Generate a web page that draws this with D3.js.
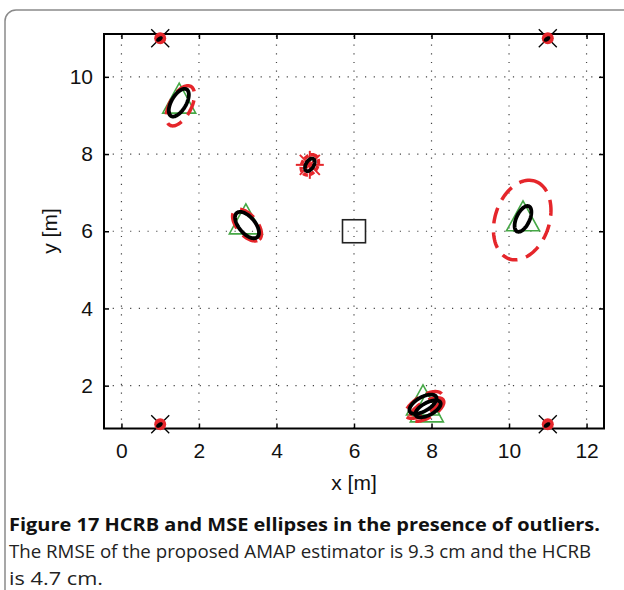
<!DOCTYPE html>
<html>
<head>
<meta charset="utf-8">
<script src="https://cdn.jsdelivr.net/npm/d3@7"></script>
<style>
  html, body { margin: 0; padding: 0; background: #fff; }
  svg { display: block; }
</style>
</head>
<body>
<svg id="fig" width="624" height="590"></svg>
<script>
// Anchor nodes (known positions), in metres
const anchorX = [1, 1, 11, 11];
const anchorY = [1, 11, 1, 11];

// Target node position
const targetX = [6];
const targetY = [6];

// True positions of the unknown nodes (green triangles)
const nodeX = [1.49, 3.21, 10.36, 7.78, 7.88];
const nodeY = [9.45, 6.32, 6.40, 1.63, 1.45];

// Outlier node (red asterisk)
const outlierX = [4.86];
const outlierY = [7.72];

// MSE ellipses (black): centre, semi-axes [m], orientation [deg]
const mseCx    = [1.48, 3.24, 10.36, 7.78, 7.91, 4.86];
const mseCy    = [9.33, 6.16, 6.32, 1.52, 1.40, 7.72];
const mseA     = [0.40, 0.41, 0.36, 0.39, 0.36, 0.18];
const mseB     = [0.19, 0.21, 0.17, 0.18, 0.16, 0.10];
const mseAngle = [60, -50, 65, 30, 28, 60];

// HCRB ellipses (red dashed)
const crbCx    = [1.52, 3.24, 10.34, 7.80, 7.88, 4.86];
const crbCy    = [9.25, 6.16, 6.29, 1.50, 1.38, 7.72];
const crbA     = [0.57, 0.49, 1.06, 0.54, 0.49, 0.28];
const crbB     = [0.28, 0.26, 0.70, 0.23, 0.21, 0.20];
const crbAngle = [62, -50, 72, 32, 30, 60];

// Tiny MSE ellipses at the anchors
const anchorMseA = 0.07, anchorMseB = 0.03, anchorMseAngle = 35;

// Axis ticks
const xTicks = [0, 2, 4, 6, 8, 10, 12];
const yTicks = [2, 4, 6, 8, 10];
const xDomain = [-0.45, 12.45];
const yDomain = [0.89, 11.11];

// Caption
const captionBold = "Figure 17 HCRB and MSE ellipses in the presence of outliers.";
const captionLines = [
  "The RMSE of the proposed AMAP estimator is 9.3 cm and the HCRB",
  "is 4.7 cm."
];

const RED = "#e5262b";
const GREEN = "#46a846";

const svg = d3.select("#fig");

// Outer rounded frame
svg.append("rect")
  .attr("x", 5).attr("y", 10).attr("width", 760).attr("height", 760)
  .attr("rx", 11).attr("ry", 11)
  .attr("fill", "none").attr("stroke", "#8a8a8a").attr("stroke-width", 1.5);

const L = 104, R = 604, T = 34, B = 428.5;
const x = d3.scaleLinear().domain(xDomain).range([L, R]);
const y = d3.scaleLinear().domain(yDomain).range([B, T]);

// Dotted grid
const grid = svg.append("g").attr("stroke", "#444").attr("stroke-width", 1.2)
  .attr("stroke-dasharray", "1.2,7.5");
grid.selectAll("line.gx").data(xTicks).join("line")
  .attr("x1", d => x(d)).attr("x2", d => x(d)).attr("y1", B).attr("y2", T);
grid.selectAll("line.gy").data(yTicks).join("line")
  .attr("y1", d => y(d)).attr("y2", d => y(d)).attr("x1", L).attr("x2", R);

// Axes with inward ticks on all four sides
const fontAxis = "'Liberation Sans', Arial, Helvetica, sans-serif";
function styleAxis(g) {
  g.select(".domain").remove();
  g.selectAll(".tick line").attr("stroke", "#000").attr("stroke-width", 1.5);
  g.selectAll("text").attr("font-family", fontAxis).attr("font-size", 21).attr("fill", "#111");
}
svg.append("g").attr("transform", `translate(0,${B})`)
  .call(d3.axisBottom(x).tickValues(xTicks).tickSize(-5).tickPadding(15).tickFormat(d3.format("d")))
  .call(styleAxis);
svg.append("g").attr("transform", `translate(0,${T})`)
  .call(d3.axisTop(x).tickValues(xTicks).tickSize(-5).tickFormat(""))
  .call(styleAxis);
svg.append("g").attr("transform", `translate(${L},0)`)
  .call(d3.axisLeft(y).tickValues(yTicks).tickSize(-5).tickPadding(11).tickFormat(d3.format("d")))
  .call(styleAxis);
svg.append("g").attr("transform", `translate(${R},0)`)
  .call(d3.axisRight(y).tickValues(yTicks).tickSize(-5).tickFormat(""))
  .call(styleAxis);

// Plot box
svg.append("rect").attr("x", L).attr("y", T).attr("width", R - L).attr("height", B - T)
  .attr("fill", "none").attr("stroke", "#000").attr("stroke-width", 2);

// Axis labels
svg.append("text").attr("x", (L + R) / 2).attr("y", 490).attr("text-anchor", "middle")
  .attr("font-family", fontAxis).attr("font-size", 21).attr("fill", "#111").text("x [m]");
svg.append("text").attr("transform", "translate(57,231) rotate(-90)").attr("text-anchor", "middle")
  .attr("font-family", fontAxis).attr("font-size", 21).attr("fill", "#111").text("y [m]");

// Ellipse outline through the scales
function ellipsePath(cx, cy, a, b, angDeg) {
  const th = angDeg * Math.PI / 180, n = 96;
  const pts = d3.range(n).map(i => {
    const t = 2 * Math.PI * i / n;
    const ex = a * Math.cos(t), ey = b * Math.sin(t);
    return [cx + ex * Math.cos(th) - ey * Math.sin(th), cy + ex * Math.sin(th) + ey * Math.cos(th)];
  });
  return d3.line().x(p => x(p[0])).y(p => y(p[1])).curve(d3.curveLinearClosed)(pts);
}

// Green triangles: true node positions
const triW = 33, triH = 30;
svg.append("g").selectAll("path").data(d3.range(nodeX.length)).join("path")
  .attr("d", i => {
    const px = x(nodeX[i]), py = y(nodeY[i]);
    return `M${px},${py - triH / 2}L${px + triW / 2},${py + triH / 2}L${px - triW / 2},${py + triH / 2}Z`;
  })
  .attr("fill", "none").attr("stroke", GREEN).attr("stroke-width", 1.6);

// Target node: black square
const sq = 23;
svg.append("g").selectAll("rect").data(d3.range(targetX.length)).join("rect")
  .attr("x", i => x(targetX[i]) - sq / 2).attr("y", i => y(targetY[i]) - sq / 2)
  .attr("width", sq).attr("height", sq)
  .attr("fill", "none").attr("stroke", "#222").attr("stroke-width", 1.6);

// Outlier: red asterisk
const ast = svg.append("g").attr("stroke", RED).attr("stroke-width", 2);
outlierX.forEach((ox, i) => {
  const px = x(ox), py = y(outlierY[i]);
  const s = 14, d = 10;
  ast.append("line").attr("x1", px - s).attr("x2", px + s).attr("y1", py).attr("y2", py);
  ast.append("line").attr("x1", px).attr("x2", px).attr("y1", py - s).attr("y2", py + s);
  ast.append("line").attr("x1", px - d).attr("x2", px + d).attr("y1", py - d).attr("y2", py + d);
  ast.append("line").attr("x1", px - d).attr("x2", px + d).attr("y1", py + d).attr("y2", py - d);
});

// HCRB ellipses (red dashed)
svg.append("g").selectAll("path").data(d3.range(crbCx.length)).join("path")
  .attr("d", i => ellipsePath(crbCx[i], crbCy[i], crbA[i], crbB[i], crbAngle[i]))
  .attr("fill", "none").attr("stroke", RED).attr("stroke-width", 3.5)
  .attr("stroke-dasharray", i => i === crbCx.length - 1 ? "5,2" : "16,9");

// MSE ellipses (black)
svg.append("g").selectAll("path").data(d3.range(mseCx.length)).join("path")
  .attr("d", i => ellipsePath(mseCx[i], mseCy[i], mseA[i], mseB[i], mseAngle[i]))
  .attr("fill", "none").attr("stroke", "#000").attr("stroke-width", 3.8);

// Anchors: black cross, red dot, tiny MSE ellipse
const anc = svg.append("g");
anchorX.forEach((ax, i) => {
  const px = x(ax), py = y(anchorY[i]), s = 9;
  anc.append("line").attr("x1", px - s).attr("x2", px + s).attr("y1", py - s).attr("y2", py + s)
    .attr("stroke", "#000").attr("stroke-width", 1.3);
  anc.append("line").attr("x1", px - s).attr("x2", px + s).attr("y1", py + s).attr("y2", py - s)
    .attr("stroke", "#000").attr("stroke-width", 1.3);
  anc.append("circle").attr("cx", px).attr("cy", py).attr("r", 6).attr("fill", RED);
  anc.append("path").attr("d", ellipsePath(ax - 0.02, anchorY[i] - 0.02, anchorMseA, anchorMseB, anchorMseAngle))
    .attr("fill", "#000").attr("stroke", "#000").attr("stroke-width", 2);
});

// Caption
const capFont = "'Open Sans', 'Noto Sans', sans-serif";
svg.append("text").attr("x", 9).attr("y", 531)
  .attr("font-family", capFont).attr("font-size", 18.5).attr("font-weight", 700).attr("fill", "#111")
  .attr("textLength", 591).attr("lengthAdjust", "spacingAndGlyphs")
  .call(t => {
    t.append("tspan").text(captionBold.slice(0, 9));
    t.append("tspan").text(captionBold.slice(9));
  });
svg.append("text").attr("x", 9).attr("y", 558)
  .attr("font-family", capFont).attr("font-size", 18.5).attr("fill", "#222")
  .attr("textLength", 582).attr("lengthAdjust", "spacingAndGlyphs").text(captionLines[0]);
svg.append("text").attr("x", 9).attr("y", 585)
  .attr("font-family", capFont).attr("font-size", 18.5).attr("fill", "#222")
  .attr("textLength", 94).attr("lengthAdjust", "spacingAndGlyphs").text(captionLines[1]);
</script>
</body>
</html>
